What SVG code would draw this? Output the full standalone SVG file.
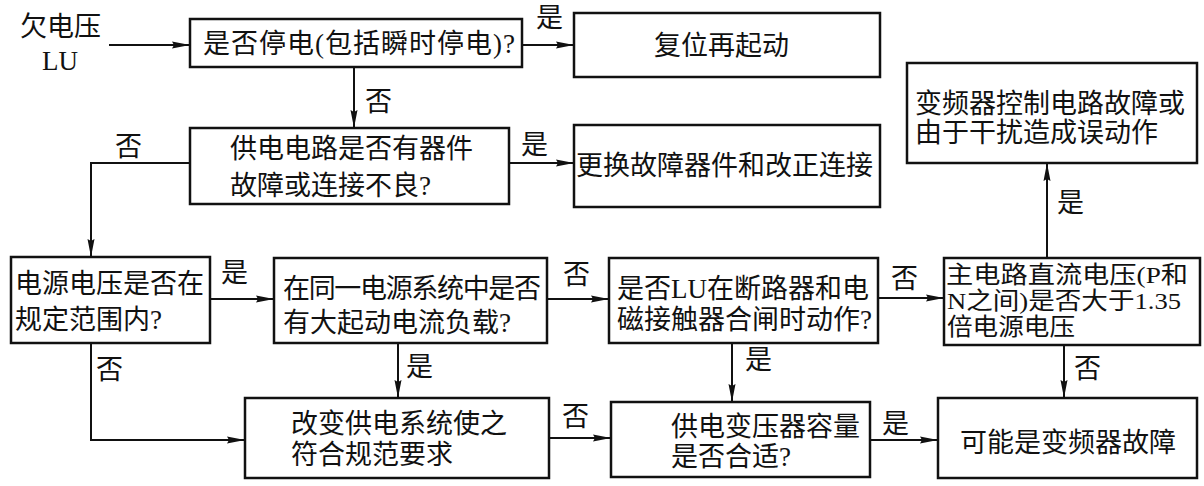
<svg xmlns="http://www.w3.org/2000/svg" width="1204" height="486" viewBox="0 0 1204 486">
<style>
text{font-family:"Liberation Serif","Noto Sans CJK SC",serif;font-size:27px;fill:#111}
.sm{font-size:24px}
.box{fill:#fff;stroke:#111;stroke-width:2.5}
.ln{fill:none;stroke:#111;stroke-width:2}
</style>
<defs>
<marker id="ah" markerUnits="userSpaceOnUse" markerWidth="18" markerHeight="10" refX="17" refY="5" orient="auto">
<path d="M0,1.5 L18,5 L0,8.5 L2,5 z" fill="#111"/>
</marker>
</defs>
<rect width="1204" height="486" fill="#fff"/>
<g id="start">
<text x="20" y="36">欠电压</text>
<text x="42" y="70">LU</text>
</g>
<g id="n1"><rect class="box" x="190" y="19" width="332" height="48"/><text x="203" y="53" textLength="312">是否停电(包括瞬时停电)?</text></g>
<g id="n2"><rect class="box" x="574" y="13" width="306" height="64"/><text x="654" y="55">复位再起动</text></g>
<g id="n3"><rect class="box" x="190" y="128" width="319" height="76"/><text x="230" y="158">供电电路是否有器件</text><text x="230" y="195">故障或连接不良?</text></g>
<g id="n4"><rect class="box" x="574" y="125" width="306" height="82"/><text x="576" y="175">更换故障器件和改正连接</text></g>
<g id="n5"><rect class="box" x="907" y="63" width="290" height="100"/><text x="915" y="113">变频器控制电路故障或</text><text x="915" y="142">由于干扰造成误动作</text></g>
<g id="n6"><rect class="box" x="11" y="257" width="199" height="86"/><text x="15" y="293">电源电压是否在</text><text x="15" y="329">规定范围内?</text></g>
<g id="n7"><rect class="box" x="274" y="258" width="273" height="85"/><text x="283" y="298" textLength="258">在同一电源系统中是否</text><text x="283" y="332">有大起动电流负载?</text></g>
<g id="n8"><rect class="box" x="609" y="258" width="269" height="85"/><text x="617" y="298">是否LU在断路器和电</text><text x="617" y="329">磁接触器合闸时动作?</text></g>
<g id="n9"><rect class="box" x="944" y="258" width="256" height="87"/><text class="sm" x="946" y="283" textLength="242" lengthAdjust="spacingAndGlyphs">主电路直流电压(P和</text><text class="sm" x="947" y="309" textLength="234" lengthAdjust="spacingAndGlyphs">N之间)是否大于1.35</text><text class="sm" x="947" y="335" textLength="128" lengthAdjust="spacingAndGlyphs">倍电源电压</text></g>
<g id="n10"><rect class="box" x="245" y="398" width="304" height="80"/><text x="291" y="433">改变供电系统使之</text><text x="291" y="464">符合规范要求</text></g>
<g id="n11"><rect class="box" x="611" y="402" width="259" height="75"/><text x="671" y="436">供电变压器容量</text><text x="671" y="466">是否合适?</text></g>
<g id="n12"><rect class="box" x="938" y="398" width="259" height="80"/><text x="960" y="452">可能是变频器故障</text></g>
<g id="connectors">
<path class="ln" d="M109,45 H189" marker-end="url(#ah)"/>
<path class="ln" d="M522,45 H573" marker-end="url(#ah)"/>
<path class="ln" d="M354,67 V127" marker-end="url(#ah)"/>
<path class="ln" d="M509,163 H573" marker-end="url(#ah)"/>
<path class="ln" d="M190,163 H91 V256" marker-end="url(#ah)"/>
<path class="ln" d="M210,299 H273" marker-end="url(#ah)"/>
<path class="ln" d="M547,299 H608" marker-end="url(#ah)"/>
<path class="ln" d="M878,298 H943" marker-end="url(#ah)"/>
<path class="ln" d="M1047,258 V164" marker-end="url(#ah)"/>
<path class="ln" d="M91,343 V440 H244" marker-end="url(#ah)"/>
<path class="ln" d="M398,343 V397" marker-end="url(#ah)"/>
<path class="ln" d="M732,343 V401" marker-end="url(#ah)"/>
<path class="ln" d="M549,438 H610" marker-end="url(#ah)"/>
<path class="ln" d="M870,440 H937" marker-end="url(#ah)"/>
<path class="ln" d="M1064,345 V397" marker-end="url(#ah)"/>
<text x="536" y="27">是</text>
<text x="365" y="111">否</text>
<text x="115" y="156">否</text>
<text x="521" y="154">是</text>
<text x="1057" y="212">是</text>
<text x="221" y="282">是</text>
<text x="563" y="284">否</text>
<text x="891" y="288">否</text>
<text x="96" y="379">否</text>
<text x="406" y="376">是</text>
<text x="745" y="369">是</text>
<text x="1074" y="378">否</text>
<text x="562" y="426">否</text>
<text x="882" y="433">是</text>
</g>
</svg>
